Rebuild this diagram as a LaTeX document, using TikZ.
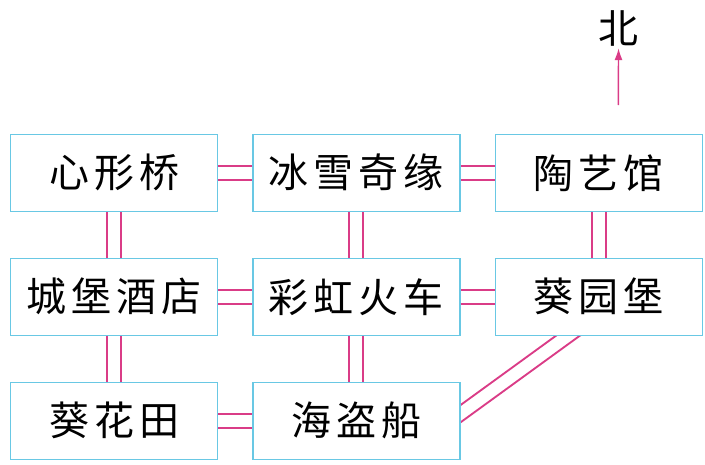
\documentclass[tikz,border=0pt]{standalone}
\usepackage{fontspec}
\newfontfamily\cjk[LetterSpace=12.5]{Noto Sans CJK SC}
\usetikzlibrary{arrows.meta, positioning, calc, backgrounds}
\definecolor{boxblue}{RGB}{105,200,228}
\definecolor{roadpink}{RGB}{218,60,135}
\tikzset{
    place/.style={draw=boxblue, line width=1pt, fill=white,
        minimum width=155.25pt, minimum height=57.75pt, inner sep=0pt,
        font=\cjk\fontsize{30}{36}\selectfont},
    road/.style={draw=roadpink, line width=1.4pt},
}
\newcommand{\roadh}[2]{%
    \draw[road] ([yshift=5.25pt]#1.center) -- ([yshift=5.25pt]#2.center);
    \draw[road] ([yshift=-5.25pt]#1.center) -- ([yshift=-5.25pt]#2.center);}
\newcommand{\roadv}[2]{%
    \draw[road] ([xshift=5.25pt]#1.center) -- ([xshift=5.25pt]#2.center);
    \draw[road] ([xshift=-5.25pt]#1.center) -- ([xshift=-5.25pt]#2.center);}

\begin{document}
\begin{tikzpicture}
        \useasboundingbox (0,0) rectangle (528.75pt,-348pt);
        \node[place] (xin) at (85.5pt,-129.6pt) {心形桥};
        \node[place, right=25.5pt of xin] (bing) {冰雪奇缘};
        \node[place, right=25.5pt of bing] (tao) {陶艺馆};
        \node[place, below=34.2pt of xin] (cheng) {城堡酒店};
        \node[place, below=34.2pt of bing] (caihong) {彩虹火车};
        \node[place, below=34.2pt of tao] (kuiyuan) {葵园堡};
        \node[place, below=34.2pt of cheng] (kuihua) {葵花田};
        \node[place, below=34.2pt of caihong] (haidao) {海盗船};

        \coordinate (d1) at ($(haidao.center)+(62pt,-6.5pt)$);
        \coordinate (d2) at ($(kuiyuan.center)+(-7.6pt,-18pt)$);

        \begin{scope}[on background layer]
            \roadh{xin}{bing}
            \roadh{bing}{tao}
            \roadh{cheng}{caihong}
            \roadh{caihong}{kuiyuan}
            \roadh{kuihua}{haidao}
            \roadv{xin}{cheng}
            \roadv{cheng}{kuihua}
            \roadv{bing}{caihong}
            \roadv{caihong}{haidao}
            \roadv{tao}{kuiyuan}
            \draw[road] ($(d1)!5.25pt!90:(d2)$) -- ($(d2)!5.25pt!-90:(d1)$);
            \draw[road] ($(d1)!5.25pt!-90:(d2)$) -- ($(d2)!5.25pt!90:(d1)$);
        \end{scope}

        \node[font=\cjk\fontsize{30}{36}\selectfont, inner sep=1.5pt] (bei) at (464pt,-21pt) {北};
        \coordinate (ntail) at (463.7pt,-78.75pt);
        \draw[roadpink, line width=1.1pt, -{Latex[length=9pt,width=6pt]}] (ntail) -- (bei);
\end{tikzpicture}
\end{document}
